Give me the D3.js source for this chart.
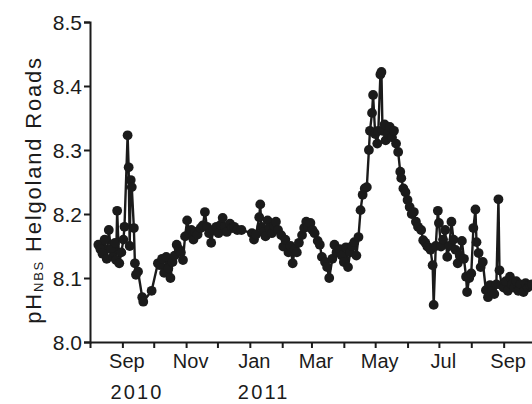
<!DOCTYPE html>
<html>
<head>
<meta charset="utf-8">
<script src="https://cdn.jsdelivr.net/npm/d3@7"></script>
<style>
  html, body { margin: 0; padding: 0; background: #fff; }
  svg { display: block; font-family: "Liberation Sans", Arial, Helvetica, sans-serif; }
</style>
</head>
<body>
<svg id="chart" width="532" height="404"></svg>
<script>
// ---- data ----
const dates = [
 "2010-08-09","2010-08-11","2010-08-13","2010-08-15","2010-08-17","2010-08-19","2010-08-21","2010-08-23","2010-08-25","2010-08-26",
 "2010-08-27","2010-08-29","2010-08-31","2010-09-02","2010-09-03","2010-09-06","2010-09-07","2010-09-08","2010-09-09","2010-09-10",
 "2010-09-12","2010-09-13","2010-09-14","2010-09-16","2010-09-20","2010-09-21","2010-09-29","2010-10-05","2010-10-07","2010-10-09",
 "2010-10-11","2010-10-13","2010-10-15","2010-10-17","2010-10-19","2010-10-21","2010-10-23","2010-10-25","2010-10-27","2010-10-29",
 "2010-10-31","2010-11-02","2010-11-04","2010-11-06","2010-11-08","2010-11-10","2010-11-12","2010-11-15","2010-11-17","2010-11-19",
 "2010-11-21","2010-11-23","2010-11-25","2010-11-27","2010-11-30","2010-12-02","2010-12-04","2010-12-06","2010-12-08","2010-12-10",
 "2010-12-13","2010-12-15","2010-12-17","2010-12-20","2010-12-24","2011-01-03","2011-01-05","2011-01-07","2011-01-10","2011-01-11",
 "2011-01-12","2011-01-14","2011-01-16","2011-01-18","2011-01-20","2011-01-22","2011-01-24","2011-01-26","2011-01-28","2011-01-31",
 "2011-02-02","2011-02-04","2011-02-07","2011-02-09","2011-02-11","2011-02-13","2011-02-15","2011-02-17","2011-02-20","2011-02-22",
 "2011-02-24","2011-02-26","2011-02-28","2011-03-02","2011-03-04","2011-03-07","2011-03-09","2011-03-11","2011-03-14","2011-03-16",
 "2011-03-18","2011-03-21","2011-03-23","2011-03-25","2011-03-28","2011-03-30","2011-04-01","2011-04-03","2011-04-05","2011-04-07",
 "2011-04-09","2011-04-11","2011-04-13","2011-04-15","2011-04-17","2011-04-19","2011-04-21","2011-04-23","2011-04-25","2011-04-26",
 "2011-04-28","2011-04-29","2011-05-01","2011-05-03","2011-05-04","2011-05-06","2011-05-07","2011-05-08","2011-05-10","2011-05-11",
 "2011-05-13","2011-05-15","2011-05-17","2011-05-19","2011-05-21","2011-05-23","2011-05-25","2011-05-26","2011-05-28","2011-05-30",
 "2011-06-01","2011-06-03","2011-06-05","2011-06-07","2011-06-09","2011-06-11","2011-06-14","2011-06-16","2011-06-18","2011-06-20",
 "2011-06-22","2011-06-23","2011-06-25","2011-06-26","2011-06-28","2011-06-30","2011-07-01","2011-07-03","2011-07-05","2011-07-07",
 "2011-07-09","2011-07-11","2011-07-13","2011-07-15","2011-07-17","2011-07-19","2011-07-21","2011-07-23","2011-07-25","2011-07-27",
 "2011-07-28","2011-07-30","2011-08-01","2011-08-03","2011-08-05","2011-08-06","2011-08-08","2011-08-10","2011-08-12","2011-08-15",
 "2011-08-17","2011-08-19","2011-08-21","2011-08-23","2011-08-25","2011-08-27","2011-08-28","2011-08-30","2011-09-01","2011-09-03",
 "2011-09-05","2011-09-07","2011-09-09","2011-09-11","2011-09-13","2011-09-15","2011-09-17","2011-09-20","2011-09-22","2011-09-24",
 "2011-09-26","2011-09-28"
];
const phValues = [
 8.152,8.145,8.138,8.160,8.130,8.175,8.145,8.133,8.155,8.128,
 8.205,8.123,8.140,8.160,8.180,8.323,8.273,8.150,8.253,8.242,
 8.178,8.123,8.105,8.110,8.070,8.063,8.080,8.123,8.120,8.130,
 8.108,8.133,8.115,8.100,8.125,8.135,8.152,8.145,8.140,8.128,
 8.165,8.190,8.170,8.175,8.160,8.172,8.168,8.178,8.182,8.203,
 8.180,8.170,8.155,8.175,8.180,8.170,8.183,8.194,8.180,8.172,
 8.185,8.178,8.180,8.175,8.175,8.170,8.160,8.168,8.195,8.215,
 8.180,8.172,8.165,8.190,8.178,8.170,8.182,8.188,8.175,8.167,
 8.149,8.160,8.140,8.150,8.123,8.145,8.140,8.155,8.167,8.178,
 8.188,8.180,8.186,8.175,8.170,8.158,8.152,8.133,8.125,8.117,
 8.100,8.130,8.152,8.140,8.145,8.135,8.125,8.148,8.117,8.140,
 8.150,8.156,8.135,8.164,8.206,8.230,8.240,8.242,8.300,8.330,
 8.358,8.386,8.325,8.310,8.330,8.418,8.422,8.330,8.340,8.315,
 8.325,8.336,8.320,8.330,8.310,8.297,8.266,8.256,8.240,8.234,
 8.222,8.211,8.200,8.203,8.188,8.180,8.175,8.159,8.155,8.149,
 8.147,8.144,8.120,8.058,8.150,8.205,8.186,8.149,8.160,8.175,
 8.133,8.150,8.188,8.160,8.144,8.123,8.135,8.158,8.130,8.102,
 8.078,8.100,8.107,8.178,8.207,8.156,8.139,8.117,8.125,8.081,
 8.070,8.089,8.080,8.075,8.090,8.223,8.112,8.089,8.085,8.095,
 8.080,8.102,8.090,8.085,8.095,8.080,8.090,8.078,8.092,8.085,
 8.089,8.090
];
const yTicks = [8.0, 8.1, 8.2, 8.3, 8.4, 8.5];
const monthLabels = ["Sep","Nov","Jan","Mar","May","Jul","Sep"];
const monthLabelDates = ["2010-09-01","2010-11-01","2011-01-01","2011-03-01","2011-05-01","2011-07-01","2011-09-01"];
const yearLabels = ["2010","2011"];
const yearLabelDates = ["2010-09-01","2011-01-01"];
const yTitleMain = "pH";
const yTitleSub = "NBS";
const yTitleRest = " Helgoland Roads";

// ---- drawing ----
const parse = d3.utcParse("%Y-%m-%d");
const data = dates.map((d, i) => ({ date: parse(d), v: phValues[i] }));

const svg = d3.select("#chart");
const x = d3.scaleUtc()
  .domain([parse("2010-08-01"), parse("2011-10-01")])
  .range([90, 535]);
const y = d3.scaleLinear().domain([8.0, 8.5]).range([342, 22]);

const ink = "#1b1b1b";

// axes
const yAxis = d3.axisLeft(y).tickValues(yTicks).tickFormat(d3.format(".1f")).tickSize(6).tickPadding(2);
const gy = svg.append("g").attr("transform", "translate(90,0)").call(yAxis);
gy.select(".domain").attr("stroke", ink).attr("stroke-width", 2);
gy.selectAll(".tick line").attr("stroke", ink).attr("stroke-width", 2);
gy.selectAll(".tick text").attr("fill", ink).attr("font-size", 21).attr("dy", "0.36em")
  .attr("font-family", "'Liberation Sans', Arial, sans-serif");

const monthTicks = d3.utcMonth.range(parse("2010-08-01"), parse("2011-10-02"));
const xAxis = d3.axisBottom(x).tickValues(monthTicks).tickFormat("").tickSize(6).tickSizeOuter(0);
const gx = svg.append("g").attr("transform", "translate(0,342)").call(xAxis);
gx.select(".domain").attr("stroke", ink).attr("stroke-width", 2);
gx.selectAll(".tick line").attr("stroke", ink).attr("stroke-width", 2);

// month labels
svg.append("g").selectAll("text").data(monthLabels).join("text")
  .attr("x", (d, i) => x(parse(monthLabelDates[i])) + 4.5)
  .attr("y", 368)
  .attr("text-anchor", "middle")
  .attr("font-size", 20)
  .attr("fill", ink)
  .text(d => d);

// year labels
svg.append("g").selectAll("text").data(yearLabels).join("text")
  .attr("x", (d, i) => x(parse(yearLabelDates[i])) - 12)
  .attr("y", 399)
  .attr("font-size", 20)
  .attr("letter-spacing", 2.2)
  .attr("fill", ink)
  .text(d => d);

// y title
const title = svg.append("text")
  .attr("transform", "translate(41,190) rotate(-90)")
  .attr("text-anchor", "middle")
  .attr("font-size", 22)
  .attr("letter-spacing", 1.8)
  .attr("fill", ink);
title.append("tspan").text(yTitleMain);
title.append("tspan").attr("font-size", 13).attr("dy", 2).text(yTitleSub);
title.append("tspan").attr("dy", -2).text(yTitleRest);

// line + markers
const line = d3.line().x(d => x(d.date)).y(d => y(d.v));
svg.append("path").datum(data)
  .attr("d", line)
  .attr("fill", "none")
  .attr("stroke", ink)
  .attr("stroke-width", 2.4);

svg.append("g").selectAll("circle").data(data).join("circle")
  .attr("cx", d => x(d.date))
  .attr("cy", d => y(d.v))
  .attr("r", 4.9)
  .attr("fill", ink);
</script>
</body>
</html>
